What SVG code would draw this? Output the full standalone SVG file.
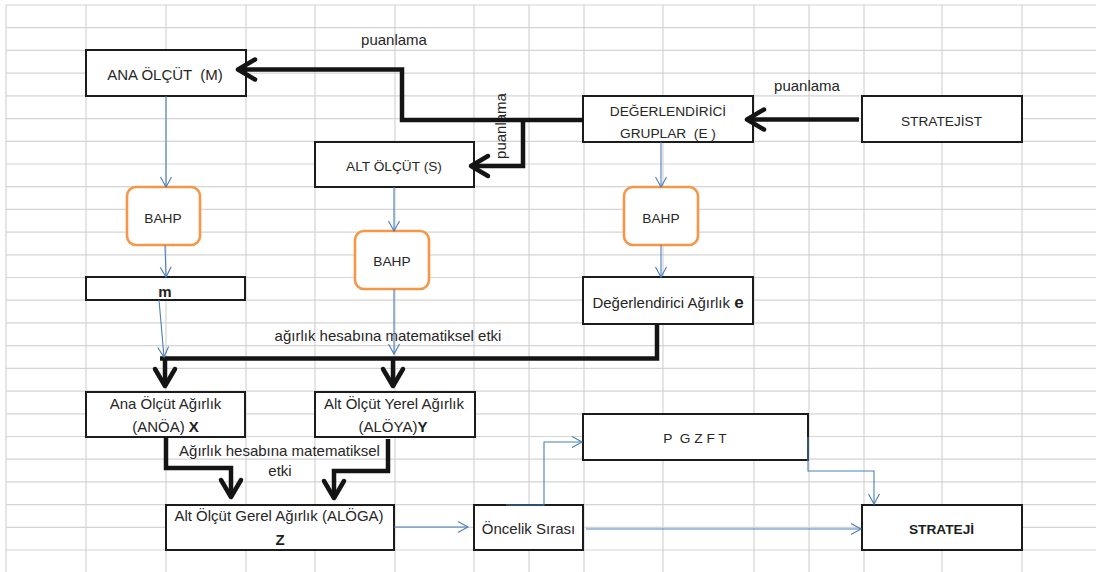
<svg xmlns="http://www.w3.org/2000/svg" width="1096" height="572" viewBox="0 0 1096 572">
<style>
.grid line{stroke:#d4d4d4;stroke-width:1.2}
.box{fill:#fff;stroke:#1c1c1c;stroke-width:2}
.bahp{fill:#fff;stroke:#f79646;stroke-width:2.6}
.t{font-family:"Liberation Sans",Arial,sans-serif;font-size:15px;fill:#262626;text-anchor:middle}
.c{font-size:13.7px}
.b{font-weight:bold;fill:#1e1e1e}
.thick{fill:none;stroke:#141414;stroke-width:4.5}
.thin{fill:none;stroke:#4a7ebb;stroke-width:1.1}
</style>
<defs>
<marker id="ah" markerUnits="userSpaceOnUse" markerWidth="30" markerHeight="30" viewBox="-25 -15 30 30" refX="0" refY="0" orient="auto" overflow="visible">
<path d="M-17,-10 L0,0 L-17,10" fill="none" stroke="#141414" stroke-width="4.5" stroke-linecap="round" stroke-linejoin="round"/>
</marker>
<marker id="bh" markerUnits="userSpaceOnUse" markerWidth="16" markerHeight="16" viewBox="-12 -8 16 16" refX="0" refY="0" orient="auto" overflow="visible">
<path d="M-10,-5.5 L0,0 L-10,5.5" fill="none" stroke="#4a7ebb" stroke-width="1.1"/>
</marker>
</defs>
<rect width="1096" height="572" fill="#fff"/>
<g class="grid">
<line x1="6" y1="5" x2="1096" y2="5"/>
<line x1="6" y1="27.7" x2="1096" y2="27.7"/>
<line x1="6" y1="50.4" x2="1096" y2="50.4"/>
<line x1="6" y1="73.1" x2="1096" y2="73.1"/>
<line x1="6" y1="95.8" x2="1096" y2="95.8"/>
<line x1="6" y1="118.6" x2="1096" y2="118.6"/>
<line x1="6" y1="141.3" x2="1096" y2="141.3"/>
<line x1="6" y1="164" x2="1096" y2="164"/>
<line x1="6" y1="186.7" x2="1096" y2="186.7"/>
<line x1="6" y1="209.4" x2="1096" y2="209.4"/>
<line x1="6" y1="232.1" x2="1096" y2="232.1"/>
<line x1="6" y1="254.8" x2="1096" y2="254.8"/>
<line x1="6" y1="277.5" x2="1096" y2="277.5"/>
<line x1="6" y1="300.2" x2="1096" y2="300.2"/>
<line x1="6" y1="322.9" x2="1096" y2="322.9"/>
<line x1="6" y1="345.7" x2="1096" y2="345.7"/>
<line x1="6" y1="368.4" x2="1096" y2="368.4"/>
<line x1="6" y1="391.1" x2="1096" y2="391.1"/>
<line x1="6" y1="413.8" x2="1096" y2="413.8"/>
<line x1="6" y1="436.5" x2="1096" y2="436.5"/>
<line x1="6" y1="459.2" x2="1096" y2="459.2"/>
<line x1="6" y1="481.9" x2="1096" y2="481.9"/>
<line x1="6" y1="504.6" x2="1096" y2="504.6"/>
<line x1="6" y1="527.3" x2="1096" y2="527.3"/>
<line x1="6" y1="550" x2="1096" y2="550"/>
<line x1="6" y1="5" x2="6" y2="572"/>
<line x1="86" y1="5" x2="86" y2="572"/>
<line x1="166" y1="5" x2="166" y2="572"/>
<line x1="246" y1="5" x2="246" y2="572"/>
<line x1="315" y1="5" x2="315" y2="572"/>
<line x1="395" y1="5" x2="395" y2="572"/>
<line x1="474" y1="5" x2="474" y2="572"/>
<line x1="529" y1="5" x2="529" y2="572"/>
<line x1="584" y1="5" x2="584" y2="572"/>
<line x1="663" y1="5" x2="663" y2="572"/>
<line x1="754" y1="5" x2="754" y2="572"/>
<line x1="809" y1="5" x2="809" y2="572"/>
<line x1="864" y1="5" x2="864" y2="572"/>
<line x1="942" y1="5" x2="942" y2="572"/>
<line x1="1022" y1="5" x2="1022" y2="572"/>
</g>

<g id="ana-olcut">
<rect class="box" x="86" y="50" width="160" height="46"/>
<text class="t" x="165" y="80" font-size="14.6" xml:space="preserve">ANA ÖLÇÜT  (M)</text>
</g>
<g id="degerlendirici-gruplar">
<rect class="box" x="583" y="96" width="170" height="46"/>
<text class="t c" x="668" y="116">DEĞERLENDİRİCİ</text>
<text class="t c" x="668" y="138" xml:space="preserve">GRUPLAR  (E )</text>
</g>
<g id="stratejist">
<rect class="box" x="862" y="96" width="160" height="46"/>
<text class="t c" x="941.5" y="126" font-size="13.3">STRATEJİST</text>
</g>
<g id="alt-olcut">
<rect class="box" x="315" y="142" width="159" height="45"/>
<text class="t c" x="394" y="171">ALT ÖLÇÜT (S)</text>
</g>
<g id="bahp-1">
<rect class="bahp" x="127" y="187" width="73" height="58" rx="9"/>
<text class="t c" x="163" y="222.5">BAHP</text>
</g>
<g id="bahp-2">
<rect class="bahp" x="355" y="231" width="74" height="58" rx="9"/>
<text class="t c" x="392" y="266">BAHP</text>
</g>
<g id="bahp-3">
<rect class="bahp" x="624" y="187" width="74" height="58" rx="9"/>
<text class="t c" x="661" y="222.5">BAHP</text>
</g>
<g id="m">
<rect class="box" x="86" y="277" width="159" height="23"/>
<text class="t b" x="165" y="296.5" font-size="16">m</text>
</g>
<g id="degerlendirici-agirlik">
<rect class="box" x="583" y="277" width="170" height="47"/>
<text class="t" x="668" y="307.5" font-size="15.6">Değerlendirici Ağırlık <tspan class="b" font-size="17">e</tspan></text>
</g>
<g id="ana-olcut-agirlik">
<rect class="box" x="86" y="392" width="159" height="45"/>
<text class="t" x="165.5" y="408.5" font-size="15.5">Ana Ölçüt Ağırlık</text>
<text class="t" x="165.5" y="432" font-size="15">(ANÖA) <tspan class="b">X</tspan></text>
</g>
<g id="alt-olcut-yerel-agirlik">
<rect class="box" x="315" y="392" width="160" height="45"/>
<text class="t" x="394" y="408.5" font-size="15.5">Alt Ölçüt Yerel Ağırlık</text>
<text class="t" x="393" y="432" font-size="15">(ALÖYA)<tspan class="b">Y</tspan></text>
</g>
<g id="alt-olcut-gerel-agirlik">
<rect class="box" x="166" y="505" width="228" height="45"/>
<text class="t" x="279" y="521">Alt Ölçüt Gerel Ağırlık (ALÖGA)</text>
<text class="t b" x="280" y="545">Z</text>
</g>
<g id="oncelik-sirasi">
<rect class="box" x="474" y="505" width="109" height="45"/>
<text class="t" x="528.5" y="534" font-size="14.7">Öncelik Sırası</text>
</g>
<g id="pgzft">
<rect class="box" x="583" y="414" width="225" height="46"/>
<text class="t c" x="695" y="443" xml:space="preserve">P  G Z F T</text>
</g>
<g id="strateji">
<rect class="box" x="862" y="505" width="160" height="45"/>
<text class="t c b" x="941.5" y="534" font-size="13.3">STRATEJİ</text>
</g>

<g id="labels">
<text class="t" x="394" y="45">puanlama</text>
<text class="t" x="807" y="91">puanlama</text>
<text class="t" transform="translate(506,126) rotate(-90)">puanlama</text>
<text class="t" x="388" y="341" font-size="14.6">ağırlık hesabına matematiksel etki</text>
<text class="t" x="279.5" y="455.5" font-size="14.6">Ağırlık hesabına matematiksel</text>
<text class="t" x="280" y="476" font-size="14.6">etki</text>
</g>

<g id="connectors">
<path class="thick" d="M859,119.5 H747" marker-end="url(#ah)"/>
<path class="thick" d="M583,120 H402 V69.5 H238" marker-end="url(#ah)"/>
<path class="thick" d="M523,120 V166 H471" marker-end="url(#ah)"/>
<path class="thick" d="M160,358.5 H657 V324"/>
<path class="thick" d="M165,358 V386" marker-end="url(#ah)"/>
<path class="thick" d="M393,358 V386" marker-end="url(#ah)"/>
<path class="thick" d="M166,437 V468 H231 V497" marker-end="url(#ah)"/>
<path class="thick" d="M388,439 V471 H334 V498" marker-end="url(#ah)"/>
<path class="thin" d="M166,96 V187" marker-end="url(#bh)"/>
<path class="thin" d="M165,245 L166,277" marker-end="url(#bh)"/>
<path class="thin" d="M159,300 L164,357" marker-end="url(#bh)"/>
<path class="thin" d="M394,187 V231" marker-end="url(#bh)"/>
<path class="thin" d="M394,289 V354" marker-end="url(#bh)"/>
<path class="thin" d="M661,142 V187" marker-end="url(#bh)"/>
<path class="thin" d="M661,245 V277" marker-end="url(#bh)"/>
<path class="thin" d="M394,527 H468" marker-end="url(#bh)"/>
<path class="thin" d="M506,505 H544 V442 H582" marker-end="url(#bh)"/>
<path class="thin" d="M808,437 V471 H874 V504" marker-end="url(#bh)"/>
<path class="thin" d="M586,529 H861" marker-end="url(#bh)"/>
</g>
</svg>
